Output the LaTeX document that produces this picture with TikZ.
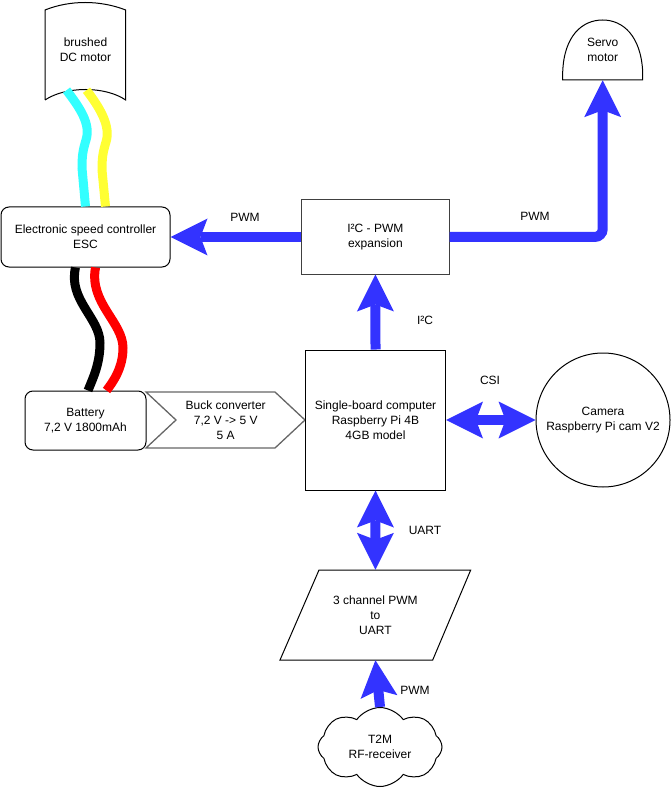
\documentclass[tikz,border=0pt]{standalone}
\usepackage{fontspec}
\setmainfont{Liberation Sans}
\usepackage{xcolor}
\usepackage{tikz}
\usetikzlibrary{arrows.meta,positioning,shapes.geometric,shapes.symbols,calc}

\definecolor{flowblue}{HTML}{3333FF}
\definecolor{wirecyan}{HTML}{33FFFF}
\definecolor{wireyellow}{HTML}{FFFF33}
\definecolor{wirered}{HTML}{FF0000}

\begin{document}
\begin{tikzpicture}[
  x=1pt, y=-1pt,
  every node/.style={font=\fontsize{12}{15}\selectfont, align=center, inner sep=0pt},
  box/.style={rectangle, draw, line width=1pt},
  rbox/.style={box, rounded corners=8pt},
  hidden/.style={rectangle, draw=none},
  wire/.style={line width=9pt},
  arr/.style={draw=flowblue, line width=10pt, -{Stealth[length=37pt, width=37pt, inset=7pt, line width=0pt]}},
  darr/.style={draw=flowblue, line width=10pt, {Stealth[length=37pt, width=37pt, inset=7pt, line width=0pt]}-{Stealth[length=37pt, width=37pt, inset=7pt, line width=0pt]}}
]
\useasboundingbox (0,0) rectangle (671,791);

% Motor and ESC
\node[hidden, minimum width=80.7pt, minimum height=80pt] (motor) at (85.5,50) {brushed\\DC motor};
\draw[line width=1pt] (45,100) -- (45,10) .. controls (70,0) and (100,0) .. (125.7,10)
  -- (125.7,100) .. controls (105,86) and (66,86) .. (45,100);
\node[rbox, minimum width=169pt, minimum height=60pt] (esc) at (85.5,237) {Electronic speed controller\\ESC};

% Battery and buck converter
\node[rbox, minimum width=121pt, minimum height=59pt] (bat) at (85.5,420.5) {Battery\\7,2 V 1800mAh};
\node[hidden, minimum width=159pt, minimum height=56pt] (buck) at (225.7,420.5) {Buck converter\\7,2 V -> 5 V\\5 A};
\draw[line width=1.3pt, draw=black!60] (146,392) -- (275,392) -- (305,420) -- (275,448) -- (146,448) -- (176,420) -- cycle;

% Computer, expansion, camera
\node[box, minimum width=140pt, minimum height=140pt] (sbc) at (375.5,420) {Single-board computer\\Raspberry Pi 4B\\4GB model};
\node[box, draw=black!75, minimum width=147.5pt, minimum height=74pt] (i2c) at (375.4,237) {I²C - PWM\\expansion};
\node[circle, draw, line width=1pt, minimum size=134pt] (cam) at (603,420) {Camera\\Raspberry Pi cam V2};

% Servo
\node[hidden, minimum width=80pt, minimum height=60pt] (servo) at (602.7,50) {Servo\\motor};
\draw[line width=1pt] (562.7,80) -- (562.7,72) .. controls (564,36) and (582,20) .. (602.7,20)
  .. controls (623,20) and (641,36) .. (642.7,72) -- (642.7,80) -- cycle;

% PWM to UART and receiver
\node[hidden, minimum width=152pt, minimum height=90pt] (conv) at (375.4,615) {3 channel PWM\\to\\UART};
\draw[line width=1pt] (319,570) -- (470.7,570) -- (432.7,660) -- (280,660) -- cycle;
\node[cloud, draw, line width=1pt, cloud puffs=8, cloud puff arc=110, aspect=1.55, minimum width=124pt, minimum height=79pt] (rf) at (380,747) {T2M\\RF-receiver};

% Wires
\draw[wire, wirecyan] ([xshift=-19]motor.south) .. controls (80,108) and (91,124) .. (86,140)
  .. controls (83,150) and (82,155) .. (82,168) -- (esc.north);
\draw[wire, wireyellow] ([xshift=1]motor.south) .. controls (100,108) and (111,126) .. (106,142)
  .. controls (103,152) and (102,157) .. (102,170) -- ([xshift=20]esc.north);
\draw[wire, black] ([xshift=-10]esc.south) .. controls (68,300) and (100,318) .. (100,343)
  .. controls (100,364) and (93,378) .. ([xshift=2.5]bat.north);
\draw[wire, wirered] ([xshift=10]esc.south) .. controls (89,303) and (123,322) .. (123,348)
  .. controls (123,368) and (113,382) .. ([xshift=21]bat.north);

% Signal arrows
\draw[arr] (i2c.west) -- (esc.east);
\draw[arr, rounded corners=8pt] (i2c.east) -| (servo.south);
\draw[arr] (sbc.north) -- (i2c.south);
\draw[darr] (sbc.east) -- (cam.west);
\draw[darr] (sbc.south) -- (conv.north);
\draw[arr] (rf.north) -- (conv.south);

% Labels
\node (lpwmesc) at (245,217) {PWM};
\node (lpwmservo) at (535,216) {PWM};
\node (li2c) at (425,320) {I²C};
\node (lcsi) at (490,380) {CSI};
\node (luart) at (425,530) {UART};
\node (lpwmrf) at (415,690) {PWM};

\end{tikzpicture}
\end{document}
